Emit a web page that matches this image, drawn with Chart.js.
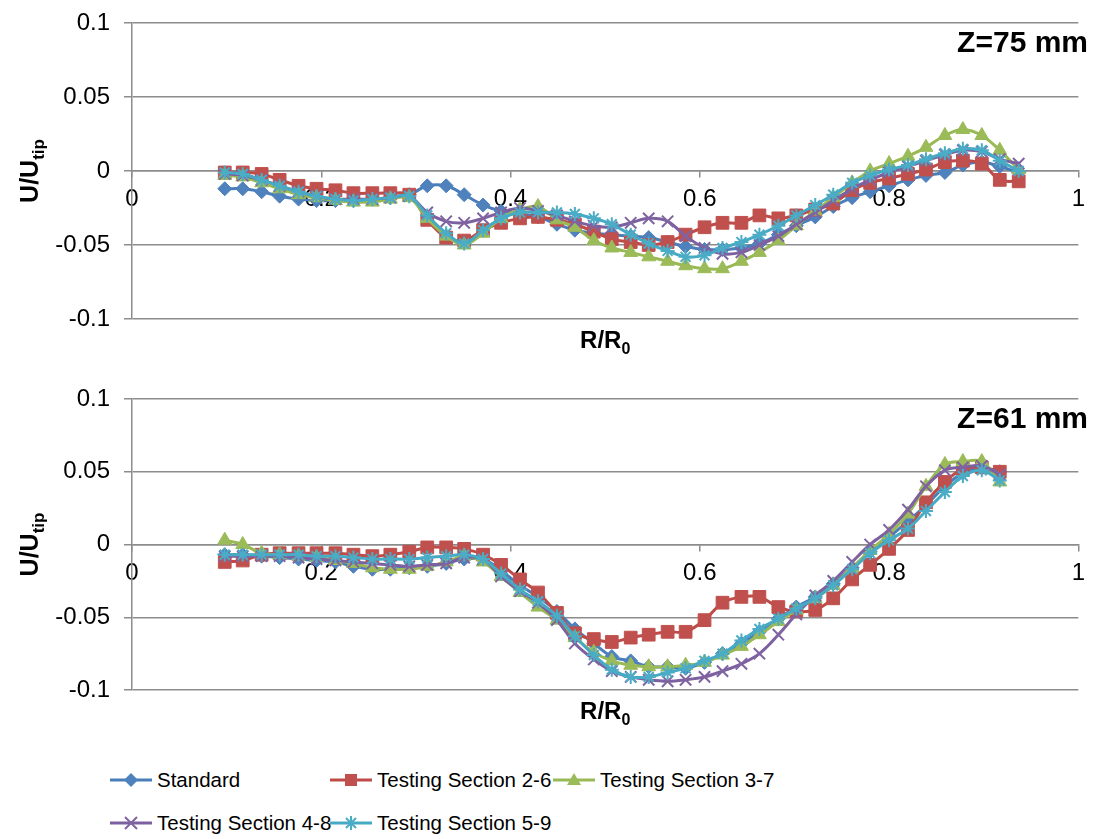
<!DOCTYPE html>
<html>
<head>
<meta charset="utf-8">
<title>U/Utip profiles</title>
<script src="https://cdn.jsdelivr.net/npm/chart.js@4.4.1/dist/chart.umd.min.js"></script>
<style>
  body { margin: 0; background: #fff; width: 1093px; height: 839px; overflow: hidden; position: relative;
         font-family: 'Liberation Sans', Arial, sans-serif; }
  .plot { position: absolute; left: 0; width: 1093px; height: 365px; }
  #plot75 { top: 0; }
  #plot61 { top: 376px; }
  .key { position: absolute; display: flex; align-items: center; font-size: 20.5px; color: #000; white-space: nowrap; }
  .key svg { margin-right: 5px; }
</style>
</head>
<body>
<div class="plot" id="plot75"><canvas id="chart75"></canvas></div>
<div class="plot" id="plot61"><canvas id="chart61"></canvas></div>
<div id="legend"></div>

<script>
// radial positions R/R0 (2 mm steps from r = 10 mm)
const radiusRatio = [0.098, 0.117, 0.137, 0.156, 0.176, 0.195, 0.215, 0.234, 0.254, 0.273, 0.293, 0.312,
  0.332, 0.351, 0.371, 0.390, 0.410, 0.429, 0.449, 0.468, 0.488, 0.507, 0.527, 0.546, 0.566, 0.585,
  0.605, 0.624, 0.644, 0.663, 0.683, 0.702, 0.722, 0.741, 0.761, 0.780, 0.800, 0.820, 0.839, 0.859,
  0.878, 0.898, 0.917, 0.937];

const seriesNames = ['Standard', 'Testing Section 2-6', 'Testing Section 3-7', 'Testing Section 4-8', 'Testing Section 5-9'];

// Z = 75 mm
const standard75 = [-0.012, -0.012, -0.014, -0.017, -0.019, -0.020, -0.020, -0.020, -0.019, -0.018,
  -0.016, -0.010, -0.010, -0.016, -0.023, -0.027, -0.029, -0.031, -0.036, -0.040,
  -0.042, -0.043, -0.044, -0.045, -0.048, -0.051, -0.053, -0.053, -0.052, -0.049,
  -0.043, -0.037, -0.031, -0.024, -0.018, -0.014, -0.010, -0.006, -0.003, -0.001,
  0.004, 0.006, 0.003, -0.001];
const section26_75 = [-0.001, -0.001, -0.002, -0.006, -0.010, -0.012, -0.013, -0.015, -0.015, -0.015,
  -0.016, -0.033, -0.045, -0.047, -0.040, -0.035, -0.032, -0.031, -0.033, -0.036,
  -0.041, -0.046, -0.048, -0.050, -0.048, -0.043, -0.038, -0.035, -0.035, -0.030,
  -0.032, -0.030, -0.026, -0.022, -0.013, -0.008, -0.005, -0.002, 0.001, 0.006,
  0.007, 0.005, -0.006, -0.007];
const section37_75 = [-0.003, -0.004, -0.008, -0.012, -0.016, -0.018, -0.020, -0.021, -0.021, -0.019,
  -0.018, -0.032, -0.044, -0.050, -0.042, -0.032, -0.026, -0.024, -0.033, -0.038,
  -0.047, -0.052, -0.055, -0.058, -0.061, -0.064, -0.066, -0.066, -0.061, -0.055,
  -0.047, -0.037, -0.027, -0.018, -0.008, 0.000, 0.005, 0.010, 0.016, 0.024,
  0.028, 0.024, 0.014, 0.001];
const section48_75 = [-0.002, -0.003, -0.006, -0.010, -0.014, -0.017, -0.019, -0.019, -0.019, -0.018,
  -0.017, -0.028, -0.034, -0.035, -0.032, -0.028, -0.025, -0.027, -0.030, -0.034,
  -0.037, -0.038, -0.035, -0.032, -0.034, -0.044, -0.052, -0.056, -0.055, -0.050,
  -0.044, -0.036, -0.028, -0.020, -0.012, -0.006, -0.001, 0.003, 0.007, 0.011,
  0.014, 0.013, 0.008, 0.005];
const section59_75 = [-0.001, -0.002, -0.006, -0.010, -0.014, -0.017, -0.019, -0.020, -0.019, -0.018,
  -0.017, -0.030, -0.042, -0.049, -0.040, -0.032, -0.028, -0.028, -0.028, -0.029,
  -0.032, -0.036, -0.043, -0.049, -0.054, -0.058, -0.057, -0.052, -0.048, -0.043,
  -0.037, -0.030, -0.023, -0.016, -0.008, -0.003, 0.001, 0.004, 0.008, 0.012,
  0.015, 0.014, 0.007, 0.000];

// Z = 61 mm (last station at r = 94 mm)
const standard61 = [-0.007, -0.007, -0.008, -0.009, -0.010, -0.011, -0.012, -0.015, -0.017, -0.017,
  -0.016, -0.015, -0.013, -0.010, -0.010, -0.018, -0.028, -0.036, -0.046, -0.058,
  -0.068, -0.077, -0.080, -0.084, -0.084, -0.085, -0.081, -0.075, -0.068, -0.060,
  -0.051, -0.043, -0.036, -0.027, -0.016, -0.005, 0.005, 0.016, 0.027, 0.040,
  0.049, 0.053, 0.050];
const section26_61 = [-0.012, -0.011, -0.007, -0.006, -0.006, -0.006, -0.006, -0.007, -0.008, -0.007,
  -0.005, -0.002, -0.002, -0.003, -0.007, -0.014, -0.024, -0.033, -0.047, -0.061,
  -0.065, -0.067, -0.064, -0.062, -0.060, -0.060, -0.052, -0.040, -0.036, -0.036,
  -0.043, -0.046, -0.045, -0.037, -0.024, -0.014, -0.003, 0.010, 0.029, 0.043,
  0.052, 0.053, 0.050];
const section37_61 = [0.003, 0.000, -0.006, -0.007, -0.008, -0.009, -0.011, -0.013, -0.016, -0.017,
  -0.017, -0.015, -0.012, -0.008, -0.012, -0.022, -0.033, -0.043, -0.052, -0.064,
  -0.074, -0.080, -0.083, -0.084, -0.084, -0.083, -0.081, -0.076, -0.070, -0.062,
  -0.053, -0.045, -0.037, -0.028, -0.016, -0.004, 0.007, 0.021, 0.040, 0.055,
  0.057, 0.057, 0.043];
const section48_61 = [-0.008, -0.008, -0.008, -0.008, -0.009, -0.010, -0.011, -0.012, -0.013, -0.014,
  -0.015, -0.014, -0.013, -0.009, -0.010, -0.022, -0.032, -0.040, -0.052, -0.068,
  -0.079, -0.087, -0.091, -0.093, -0.094, -0.093, -0.091, -0.087, -0.082, -0.075,
  -0.062, -0.048, -0.035, -0.025, -0.012, 0.000, 0.010, 0.024, 0.040, 0.051,
  0.053, 0.054, 0.048];
const section59_61 = [-0.007, -0.007, -0.007, -0.007, -0.007, -0.008, -0.008, -0.009, -0.010, -0.010,
  -0.010, -0.009, -0.008, -0.007, -0.010, -0.020, -0.031, -0.039, -0.049, -0.063,
  -0.076, -0.086, -0.091, -0.091, -0.088, -0.085, -0.080, -0.075, -0.066, -0.058,
  -0.051, -0.044, -0.037, -0.028, -0.017, -0.006, 0.003, 0.011, 0.023, 0.036,
  0.047, 0.051, 0.044];

const lineColors = ['#4A7EBB', '#BE4B48', '#98B954', '#7D60A0', '#46AAC5'];
const markerColors = ['#4F81BD', '#C0504D', '#9BBB59', '#8064A2', '#4BACC6'];
const pointStyles = ['rectRot', 'rect', 'triangle', 'crossRot', 'star'];
const pointSizes = [7, 9, 8, 8, 7];

const FONT = "'Liberation Sans', Arial, sans-serif";
Chart.defaults.font.family = FONT;
Chart.defaults.color = '#000';

// tick text without trailing zeros: 0.1, 0.05, 0, 1
const plainNumber = (value) => String(Number(value.toFixed(3)));

// text with a subscript, centred on (cx, cy)
function drawSubscripted(ctx, main, sub, cx, cy, size) {
  const subSize = Math.round(size * 0.68);
  ctx.font = 'bold ' + size + 'px ' + FONT;
  const w1 = ctx.measureText(main).width;
  ctx.font = 'bold ' + subSize + 'px ' + FONT;
  const w2 = ctx.measureText(sub).width;
  const x0 = cx - (w1 + w2) / 2;
  ctx.textAlign = 'left';
  ctx.textBaseline = 'alphabetic';
  ctx.font = 'bold ' + size + 'px ' + FONT;
  ctx.fillText(main, x0, cy + size * 0.35);
  ctx.font = 'bold ' + subSize + 'px ' + FONT;
  ctx.fillText(sub, x0 + w1, cy + size * 0.35 + size * 0.25);
}

const axisTitles = {
  id: 'axisTitles',
  afterDraw(chart, args, opts) {
    const { ctx, chartArea } = chart;
    ctx.save();
    ctx.fillStyle = '#000';
    drawSubscripted(ctx, 'R/R', '0', (chartArea.left + chartArea.right) / 2, chartArea.bottom + opts.xTitleGap, 24);
    ctx.translate(opts.yTitleX, (chartArea.top + chartArea.bottom) / 2);
    ctx.rotate(-Math.PI / 2);
    drawSubscripted(ctx, 'U/U', 'tip', 0, 0, 25);
    ctx.restore();

    ctx.save();
    ctx.font = 'bold 30px ' + FONT;
    ctx.textAlign = 'right';
    ctx.textBaseline = 'middle';
    ctx.fillText(opts.zText, opts.zRight, chartArea.top + 21);
    ctx.restore();
  }
};

function makeChart(canvasId, seriesValues, zText, padBottom) {
  const datasets = seriesValues.map((vals, k) => ({
    label: seriesNames[k],
    data: vals.map((v, i) => ({ x: radiusRatio[i], y: v })),
    borderColor: lineColors[k],
    backgroundColor: markerColors[k],
    borderWidth: 3,
    tension: 0.35,
    pointStyle: pointStyles[k],
    pointRadius: pointSizes[k],
    pointBackgroundColor: markerColors[k],
    pointBorderColor: markerColors[k],
    pointBorderWidth: k >= 3 ? 2 : 1,
    order: 5 - k
  }));

  return new Chart(document.getElementById(canvasId), {
    type: 'line',
    data: { datasets: datasets },
    options: {
      responsive: true,
      maintainAspectRatio: false,
      animation: false,
      layout: { padding: { top: 23, right: 13, bottom: padBottom, left: 0 } },
      plugins: {
        legend: { display: false },
        tooltip: { enabled: false },
        axisTitles: { zText: zText, zRight: 1088, yTitleX: 29, xTitleGap: 21 }
      },
      scales: {
        x: {
          type: 'linear',
          position: { y: 0 },
          min: 0,
          max: 1,
          afterFit: (scale) => { scale.height = 0; },
          ticks: { stepSize: 0.2, maxRotation: 0, padding: 8, font: { size: 24 }, color: '#000', callback: plainNumber },
          grid: { drawOnChartArea: false, drawTicks: true, tickLength: 6, color: '#8c8c8c', lineWidth: 1.5 },
          border: { color: '#8c8c8c', width: 1.5 }
        },
        y: {
          min: -0.1,
          max: 0.1,
          // fixed left margin; the layout padding alone sets the plot top and bottom
          afterFit: (scale) => { scale.width = 132; scale.paddingTop = 0; scale.paddingBottom = 0; },
          ticks: { stepSize: 0.05, padding: 14, font: { size: 24 }, color: '#000', callback: plainNumber },
          grid: { color: '#8c8c8c', lineWidth: 1.5, tickLength: 8 },
          border: { color: '#8c8c8c', width: 1.5 }
        }
      }
    },
    plugins: [axisTitles]
  });
}

makeChart('chart75', [standard75, section26_75, section37_75, section48_75, section59_75], 'Z=75 mm', 46);
makeChart('chart61', [standard61, section26_61, section37_61, section48_61, section59_61], 'Z=61 mm', 51);

// legend laid out in fixed columns
const legendSlots = [[110, 780], [330, 780], [553, 780], [110, 823], [330, 823]];
function markerSvg(k) {
  const c = markerColors[k];
  let m = '';
  if (k === 0) m = `<polygon points="21,3 28,10 21,17 14,10" fill="${c}"/>`;
  if (k === 1) m = `<rect x="15" y="4" width="12" height="12" fill="${c}"/>`;
  if (k === 2) m = `<polygon points="21,3 28,15 14,15" fill="${c}"/>`;
  if (k === 3) m = `<path d="M15 4 L27 16 M27 4 L15 16" stroke="${c}" stroke-width="2"/>`;
  if (k === 4) m = `<path d="M16 5 L26 15 M26 5 L16 15 M21 3 L21 17" stroke="${c}" stroke-width="2"/>`;
  return `<svg width="42" height="20"><line x1="0" y1="10" x2="42" y2="10" stroke="${lineColors[k]}" stroke-width="3"/>${m}</svg>`;
}
const legend = document.getElementById('legend');
seriesNames.forEach((name, k) => {
  const item = document.createElement('div');
  item.className = 'key';
  item.style.left = legendSlots[k][0] + 'px';
  item.style.top = (legendSlots[k][1] - 12) + 'px';
  item.innerHTML = markerSvg(k) + '<span>' + name + '</span>';
  legend.appendChild(item);
});
</script>
</body>
</html>
